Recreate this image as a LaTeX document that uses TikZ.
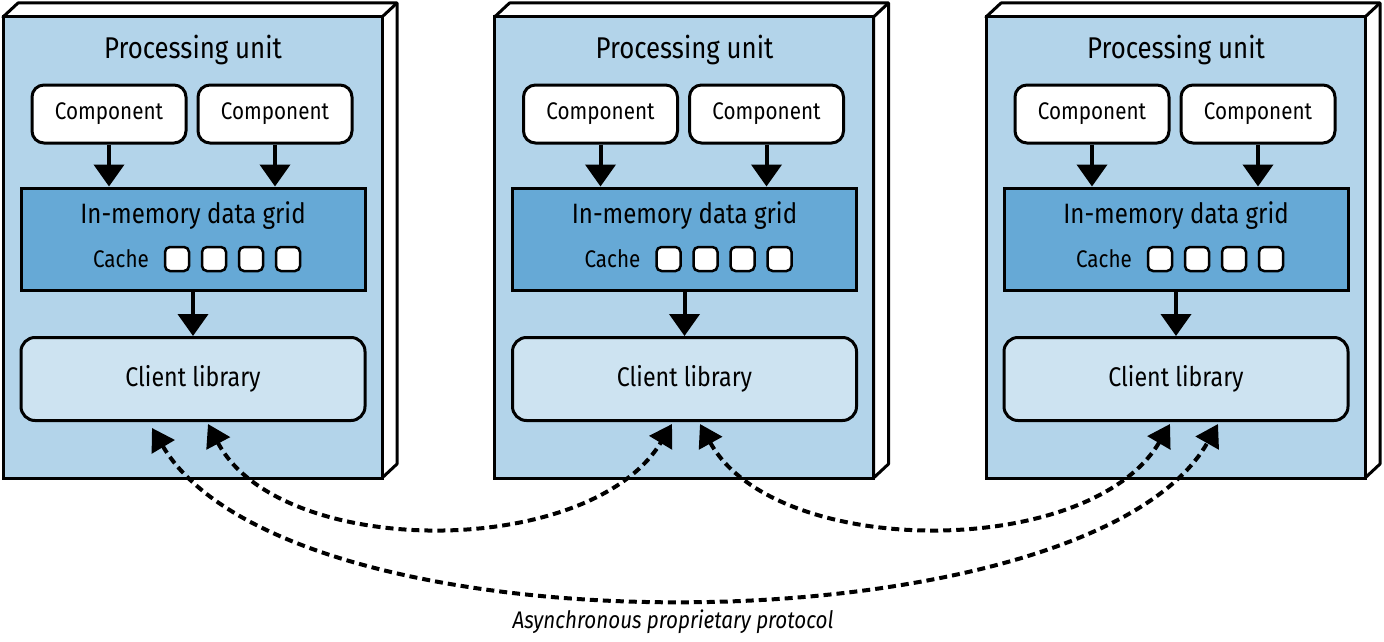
\documentclass[tikz,border=0pt]{standalone}
\usepackage{fontspec}
\setmainfont{Fira Sans}[FakeStretch=0.86]
\usetikzlibrary{arrows.meta}
\definecolor{bgblue}{HTML}{B3D4EA}
\definecolor{gridblue}{HTML}{66A9D6}
\definecolor{clientblue}{HTML}{CDE3F1}
\tikzset{
  every node/.style={font=\fontsize{24}{28}\selectfont},
  comp/.style={draw,line width=3pt,rounded corners=12pt,fill=white,minimum width=154pt,minimum height=58pt,inner sep=0pt},
  gridbox/.style={draw,line width=3pt,fill=gridblue,minimum width=344pt,minimum height=102pt,inner sep=0pt},
  client/.style={draw,line width=3pt,rounded corners=14pt,fill=clientblue,minimum width=344pt,minimum height=83pt,inner sep=0pt,font=\fontsize{27}{30}\selectfont},
  cell/.style={draw,line width=2.5pt,rounded corners=5pt,fill=white,minimum width=24pt,minimum height=24pt,inner sep=0pt},
  solidarr/.style={line width=4pt,-{Triangle[length=22pt,width=30pt]}},
  dasharr/.style={line width=4pt,dash pattern=on 8pt off 5pt,{Triangle[length=22pt,width=26pt]}-{Triangle[length=22pt,width=26pt]}}
}
\begin{document}
\begin{tikzpicture}[x=1pt,y=-1pt]
\useasboundingbox (0,0) rectangle (1384,642);
\foreach \i/\dx in {1/0,2/491.5,3/983}{
  \begin{scope}[xshift=\dx]
  \draw[line width=3pt,fill=white,line join=round] (3,17) -- (18,3) -- (397,3) -- (397,464) -- (382,478) -- (382,17) -- cycle;
  \draw[line width=3pt] (382,17) -- (397,3);
  \draw[line width=3pt,fill=bgblue] (3,17) rectangle (382,478);
  \node[font=\fontsize{30}{34}\selectfont] (t\i) at (193,50) {Processing unit};
  \node[comp] (ca\i) at (109,114) {Component};
  \node[comp] (cb\i) at (275,114) {Component};
  \node[gridbox] (g\i) at (193,239) {};
  \node[font=\fontsize{28}{32}\selectfont] (gt\i) at (193,216) {In-memory data grid};
  \node (cl\i) at (121,259) {Cache};
  \node[cell] (c1\i) at (177,259) {};
  \node[cell] (c2\i) at (214,259) {};
  \node[cell] (c3\i) at (251,259) {};
  \node[cell] (c4\i) at (288,259) {};
  \node[client] (lib\i) at (193,379) {Client library};
  \draw[solidarr] (ca\i.south) -- (ca\i.south |- g\i.north);
  \draw[solidarr] (cb\i.south) -- (cb\i.south |- g\i.north);
  \draw[solidarr] (g\i.south) -- (lib\i.north);
  \end{scope}
}
\coordinate (a1) at (208,424);
\coordinate (a2) at (672,424);
\coordinate (b1) at (700,424);
\coordinate (b2) at (1170,424);
\coordinate (e1) at (152,428);
\coordinate (e2) at (1218,424);
\draw[dasharr] (a1) .. controls (280,560) and (590,560) .. (a2);
\draw[dasharr] (b1) .. controls (775,560) and (1090,560) .. (b2);
\draw[dasharr] (e1) .. controls (290,660) and (1090,650) .. (e2);
\node[font=\fontsize{24}{28}\selectfont\itshape] (lbl) at (673,622) {Asynchronous proprietary protocol};
\end{tikzpicture}
\end{document}
